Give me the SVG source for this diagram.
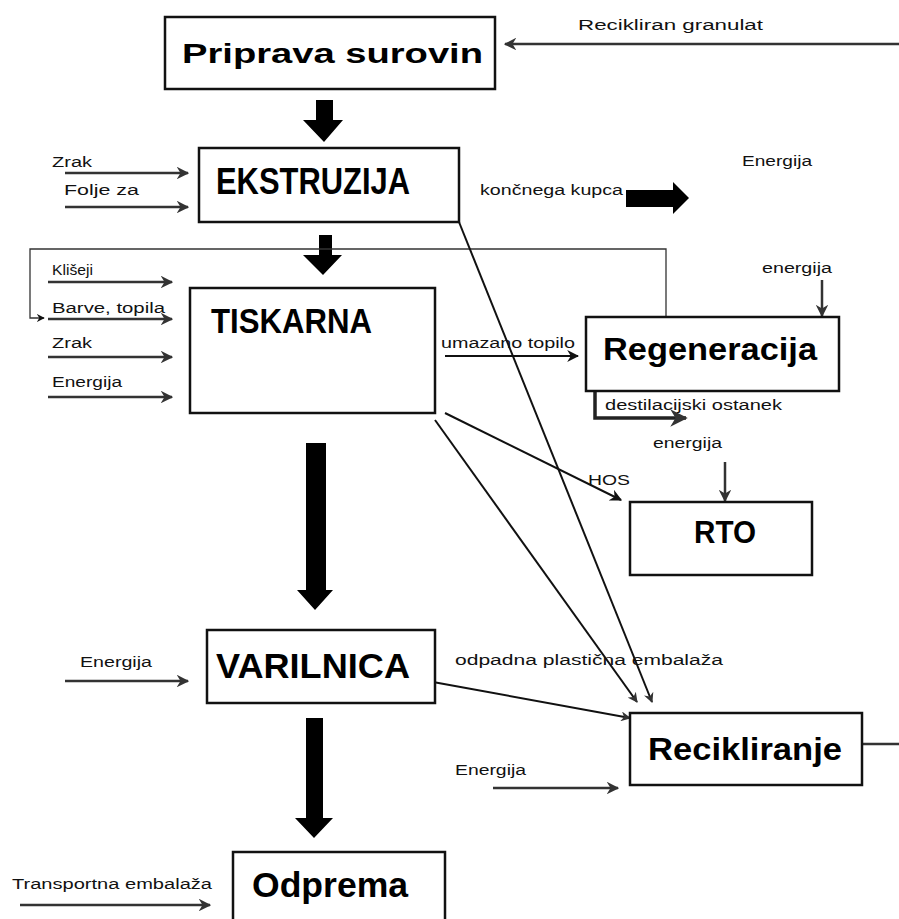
<svg xmlns="http://www.w3.org/2000/svg" width="899" height="919" viewBox="0 0 899 919">
<defs>
<style>
.box{fill:#fff;stroke:#111;stroke-width:2.5}
.t{font-family:"Liberation Sans",Arial,sans-serif;font-weight:bold;fill:#000}
.s{font-family:"Liberation Sans",Arial,sans-serif;font-size:14px;fill:#111}
.a{fill:none;stroke:#333;stroke-width:2.5}
.l{fill:none;stroke:#111;stroke-width:2}
.blk{fill:#000}
</style>
<marker id="ah" viewBox="0 0 10 10" refX="9" refY="5" markerWidth="5" markerHeight="5" orient="auto" markerUnits="strokeWidth">
<path d="M0,0 L10,5 L0,10 L3,5 Z" fill="#333"/>
</marker>
<marker id="ah2" viewBox="0 0 10 10" refX="9" refY="5" markerWidth="6" markerHeight="6" orient="auto" markerUnits="strokeWidth">
<path d="M0,0 L10,5 L0,10 L3,5 Z" fill="#111"/>
</marker>
</defs>

<g id="connectors">
<polygon class="blk" points="316,100 333,100 333,120 343,120 324,142 303,120 316,120"/>
<polygon class="blk" points="319,235 332,235 332,255 342,255 323,275 303,255 319,255"/>
<polygon class="blk" points="306,443 326,443 326,590 333,590 315,610 297,590 306,590"/>
<polygon class="blk" points="306,718 323,718 323,818 333,818 314,838 295,818 306,818"/>
<polygon class="blk" points="626,190 673,190 673,182 689,198 673,214 673,207 626,207"/>
<line class="a" x1="65" y1="173" x2="188" y2="173" marker-end="url(#ah)"/>
<line class="a" x1="65" y1="207" x2="188" y2="207" marker-end="url(#ah)"/>
<line class="a" x1="48" y1="282" x2="172" y2="282" marker-end="url(#ah)"/>
<line class="a" x1="48" y1="319" x2="172" y2="319" marker-end="url(#ah)"/>
<line class="a" x1="48" y1="357" x2="172" y2="357" marker-end="url(#ah)"/>
<line class="a" x1="48" y1="397" x2="172" y2="397" marker-end="url(#ah)"/>
<line class="a" x1="65" y1="681" x2="188" y2="681" marker-end="url(#ah)"/>
<line class="a" x1="20" y1="905" x2="210" y2="905" marker-end="url(#ah)"/>
<line class="a" x1="493" y1="788" x2="618" y2="788" marker-end="url(#ah)"/>
<line class="a" x1="899" y1="44" x2="505" y2="44" marker-end="url(#ah)"/>
<line class="l" x1="445" y1="356" x2="578" y2="356" marker-end="url(#ah2)"/>
<line class="a" x1="822" y1="280" x2="822" y2="316" marker-end="url(#ah)"/>
<line class="a" x1="725" y1="462" x2="725" y2="501" marker-end="url(#ah)"/>
<path d="M595,391 V418 H686" fill="none" stroke="#222" stroke-width="3.5" marker-end="url(#ah)"/>
<path d="M666,316 V249 H30 V318 H44" fill="none" stroke="#333" stroke-width="1.3" marker-end="url(#ah2)"/>
<line class="l" x1="445" y1="413" x2="621" y2="500" marker-end="url(#ah2)"/>
<line class="l" x1="435" y1="420" x2="637" y2="702" stroke-width="2.5" marker-end="url(#ah)"/>
<line class="l" x1="459" y1="222" x2="652" y2="702" stroke-width="2.5" marker-end="url(#ah)"/>
<line class="l" x1="433" y1="682" x2="630" y2="718" stroke-width="2.8" marker-end="url(#ah)"/>
<line class="a" x1="862" y1="744" x2="899" y2="744"/>
</g>

<g id="priprava">
<rect class="box" x="165" y="17" width="330" height="72"/>
<text class="t" x="182" y="63" font-size="28" textLength="301" lengthAdjust="spacingAndGlyphs">Priprava surovin</text>
</g>
<g id="ekstruzija">
<rect class="box" x="199" y="148" width="260" height="74"/>
<text class="t" x="216" y="194" font-size="36" textLength="194" lengthAdjust="spacingAndGlyphs">EKSTRUZIJA</text>
</g>
<g id="tiskarna">
<rect class="box" x="190" y="288" width="245" height="125"/>
<text class="t" x="211" y="333" font-size="35" textLength="161" lengthAdjust="spacingAndGlyphs">TISKARNA</text>
</g>
<g id="regeneracija">
<rect class="box" x="586" y="317" width="253" height="74"/>
<text class="t" x="603" y="360" font-size="32" textLength="214" lengthAdjust="spacingAndGlyphs">Regeneracija</text>
</g>
<g id="rto">
<rect class="box" x="630" y="502" width="182" height="73"/>
<text class="t" x="694" y="543" font-size="32" textLength="62" lengthAdjust="spacingAndGlyphs">RTO</text>
</g>
<g id="varilnica">
<rect class="box" x="207" y="630" width="228" height="73"/>
<text class="t" x="216" y="678" font-size="35" textLength="194" lengthAdjust="spacingAndGlyphs">VARILNICA</text>
</g>
<g id="recikliranje">
<rect class="box" x="630" y="713" width="232" height="72"/>
<text class="t" x="648" y="760" font-size="32" textLength="194" lengthAdjust="spacingAndGlyphs">Recikliranje</text>
</g>
<g id="odprema">
<rect class="box" x="233" y="852" width="212" height="80"/>
<text class="t" x="252" y="897" font-size="35" textLength="156" lengthAdjust="spacingAndGlyphs">Odprema</text>
</g>

<g id="labels">
<text class="s" x="578" y="30" textLength="185" lengthAdjust="spacingAndGlyphs">Recikliran granulat</text>
<text class="s" x="742" y="166" textLength="70" lengthAdjust="spacingAndGlyphs">Energija</text>
<text class="s" x="480" y="195" font-size="15" textLength="143" lengthAdjust="spacingAndGlyphs">končnega kupca</text>
<text class="s" x="52" y="167" textLength="40" lengthAdjust="spacingAndGlyphs">Zrak</text>
<text class="s" x="64" y="195" textLength="75" lengthAdjust="spacingAndGlyphs">Folje za</text>
<text class="s" x="52" y="275" font-size="15" textLength="41" lengthAdjust="spacingAndGlyphs">Klišeji</text>
<text class="s" x="52" y="313" textLength="113" lengthAdjust="spacingAndGlyphs">Barve, topila</text>
<text class="s" x="52" y="348" textLength="40" lengthAdjust="spacingAndGlyphs">Zrak</text>
<text class="s" x="52" y="387" textLength="70" lengthAdjust="spacingAndGlyphs">Energija</text>
<text class="s" x="441" y="348" textLength="134" lengthAdjust="spacingAndGlyphs">umazano topilo</text>
<text class="s" x="762" y="273" textLength="70" lengthAdjust="spacingAndGlyphs">energija</text>
<text class="s" x="605" y="410" textLength="177" lengthAdjust="spacingAndGlyphs">destilacijski ostanek</text>
<text class="s" x="653" y="448" textLength="69" lengthAdjust="spacingAndGlyphs">energija</text>
<text class="s" x="588" y="485" textLength="42" lengthAdjust="spacingAndGlyphs">HOS</text>
<text class="s" x="455" y="665" font-size="15" textLength="268" lengthAdjust="spacingAndGlyphs">odpadna plastična embalaža</text>
<text class="s" x="80" y="667" textLength="72" lengthAdjust="spacingAndGlyphs">Energija</text>
<text class="s" x="455" y="775" textLength="71" lengthAdjust="spacingAndGlyphs">Energija</text>
<text class="s" x="12" y="889" font-size="13" textLength="200" lengthAdjust="spacingAndGlyphs">Transportna embalaža</text>
</g>
</svg>
